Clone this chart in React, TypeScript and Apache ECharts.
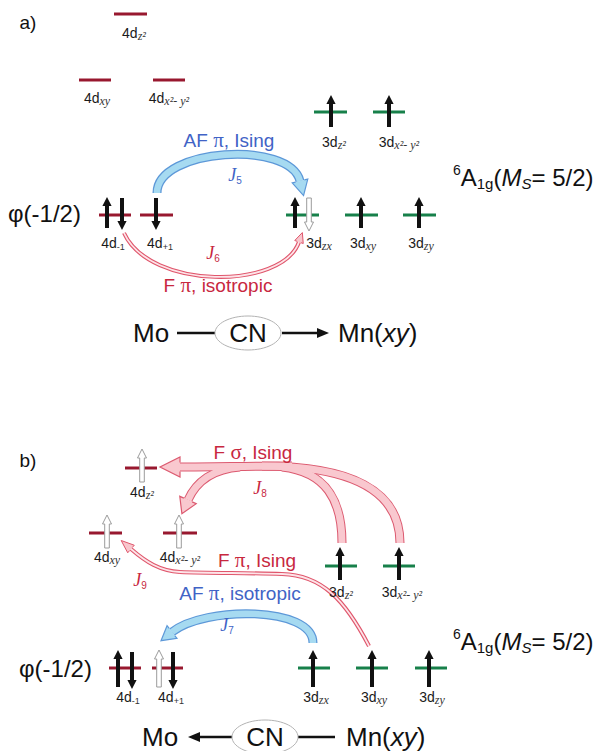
import React, { useEffect, useRef } from "react";
import * as echarts from "echarts";

const SANS = "'Liberation Sans', Arial, Helvetica, sans-serif";
const SERIF = "'Liberation Serif', 'Times New Roman', serif";
const MAROON = "#98182f";
const GREEN = "#17804a";
const BLUE_TXT = "#4163c6";
const RED_TXT = "#c8283f";

// Orbital energy levels: [xStart, xEnd, y, metal] (0 = Mo 4d, 1 = Mn 3d)
const levels: number[][] = [
  [114, 147, 14, 0], [79, 111, 80, 0], [153, 185, 80, 0],
  [314, 347, 112, 1], [373, 405, 112, 1],
  [99, 131, 215, 0], [140, 173, 215, 0],
  [286, 319, 215, 1], [345, 378, 215, 1], [403, 436, 215, 1],
  [125, 157, 468, 0], [89, 122, 533, 0], [163, 197, 533, 0],
  [325, 357, 566, 1], [383, 415, 566, 1],
  [109, 141, 668, 0], [152, 183, 668, 0],
  [298, 330, 668, 1], [356, 388, 668, 1], [415, 447, 668, 1],
];

// Spins: [x, yTop, yBottom, direction (1 up, -1 down), hollow (0/1)]
const spins: number[][] = [
  [331, 95, 127, 1, 0], [389, 95, 127, 1, 0],
  [107, 197, 228, 1, 0], [122, 198, 230, -1, 0], [156, 198, 230, -1, 0],
  [295, 197, 228, 1, 0], [309, 198, 231, -1, 1],
  [361, 197, 228, 1, 0], [419, 197, 228, 1, 0],
  [142, 449, 482, 1, 1], [107, 515, 548, 1, 1], [179, 515, 548, 1, 1],
  [340, 547, 580, 1, 0], [399, 547, 580, 1, 0],
  [118, 650, 687, 1, 0], [132, 652, 689, -1, 0],
  [159, 650, 687, 1, 1], [173, 652, 689, -1, 0],
  [313, 650, 687, 1, 0], [372, 650, 687, 1, 0], [429, 650, 687, 1, 0],
];

// Orbital names and where they sit
const orbitalNames: string[] = [
  "{b|4d}{i|z²}", "{b|4d}{i|xy}", "{b|4d}{i|x²- y²}",
  "{b|3d}{i|z²}", "{b|3d}{i|x²- y²}",
  "{b|4d}{n|-1}", "{b|4d}{n|+1}",
  "{b|3d}{i|zx}", "{b|3d}{i|xy}", "{b|3d}{i|zy}",
  "{b|4d}{i|z²}", "{b|4d}{i|xy}", "{b|4d}{i|x²- y²}",
  "{b|3d}{i|z²}", "{b|3d}{i|x²- y²}",
  "{b|4d}{n|-1}", "{b|4d}{n|+1}",
  "{b|3d}{i|zx}", "{b|3d}{i|xy}", "{b|3d}{i|zy}",
];
const orbitalNamePos: number[][] = [
  [134, 33], [97, 98], [169, 98],
  [334, 142], [399, 142],
  [113, 243], [160, 243],
  [319, 243], [363, 243], [421, 243],
  [142, 492], [107, 557], [180, 557],
  [341, 592], [402, 592],
  [128, 697], [171, 697],
  [316, 697], [374, 697], [432, 697],
];

// Free annotations: [rich text, x, y, align]
const annotations: (string | number)[][] = [
  ["{h|a)}", 28, 22, "center"],
  ["{h|b)}", 28, 460, "center"],
  ["{phi|φ(-1/2)}", 8, 213, "left"],
  ["{phi|φ(-1/2)}", 19, 668, "left"],
  ["{sup|6}{bigA|A}{sub|1g}{bigA|(}{bigAI|M}{subI|S}{bigA|= 5/2)}", 453, 177, "left"],
  ["{sup|6}{bigA|A}{sub|1g}{bigA|(}{bigAI|M}{subI|S}{bigA|= 5/2)}", 453, 641, "left"],
  ["{bt|AF }{bp|π}{bt|, Ising}", 229, 140, "center"],
  ["{bj|J}{bjs|5}", 235, 175, "center"],
  ["{rj|J}{rjs|6}", 213, 253, "center"],
  ["{rt|F }{rp|π}{rt|, isotropic}", 218, 285, "center"],
  ["{big|Mo}", 133, 333, "left"],
  ["{big|CN}", 248, 333, "center"],
  ["{big|Mn(}{bigI|xy}{big|)}", 338, 333, "left"],
  ["{rt|F }{rp|σ}{rt|, Ising}", 253, 452, "center"],
  ["{rj|J}{rjs|8}", 260, 488, "center"],
  ["{rt|F }{rp|π}{rt|, Ising}", 257, 560, "center"],
  ["{rj|J}{rjs|9}", 140, 580, "center"],
  ["{bt|AF }{bp|π}{bt|, isotropic}", 240, 593, "center"],
  ["{bj|J}{bjs|7}", 227, 625, "center"],
  ["{big|Mo}", 142, 737, "left"],
  ["{big|CN}", 265, 737, "center"],
  ["{big|Mn(}{bigI|xy}{big|)}", 346, 737, "left"],
];

// Exchange pathways: cubic segments [x0,y0, x1,y1, x2,y2, x3,y3]
const pathJ5: number[][] = [[157, 193, 157, 148, 290, 140, 300, 181]];
const pathJ6: number[][] = [[124, 233, 150, 290, 282, 290, 299, 242]];
const pathJ7: number[][] = [[313, 643, 313, 606, 205, 606, 172, 632]];
const pathJ8: number[][] = [
  [400, 543, 400, 490, 350, 466, 262, 466],
  [342, 543, 342, 500, 326, 472, 282, 467],
  [292, 466, 250, 466, 215, 467, 180, 467],
  [240, 467, 213, 469, 196, 482, 188, 500],
];
const pathJ9: number[][] = [
  [369, 646, 345, 600, 322, 575, 282, 574],
  [282, 574, 250, 573, 210, 573, 180, 572],
  [180, 572, 160, 571, 146, 562, 131, 549],
];
// heads: [segmentIndex, length, halfWidth]
const headsJ5 = [[0, 15, 8]];
const headsJ6 = [[0, 10, 4.5]];
const headsJ7 = [[0, 14, 8]];
const headsJ8 = [[2, 20, 10], [3, 15, 9]];
const headsJ9 = [[2, 13, 5]];

const curves = [
  { segs: pathJ5, heads: headsJ5, kind: "blue" },
  { segs: pathJ6, heads: headsJ6, kind: "thin" },
  { segs: pathJ7, heads: headsJ7, kind: "blue" },
  { segs: pathJ8, heads: headsJ8, kind: "pink" },
  { segs: pathJ9, heads: headsJ9, kind: "thin" },
];

// Bridge connectors: [x1, y, x2, arrowhead at x2 (0/1)]
const connectors: number[][] = [
  [177, 333, 215, 0], [282, 333, 318, 1],
  [233, 737, 199, 1], [298, 737, 335, 0],
];
// CN ellipses: [cx, cy, rx, ry]
const ellipses: number[][] = [[248, 333, 33, 17], [265, 737, 33, 17]];

const curveStyles: Record<string, any> = {
  blue: { outer: "#5d98d8", inner: "#a6daf1", ow: 9, iw: 6.5, headFill: "#a6daf1", headStroke: "#5d98d8" },
  pink: { outer: "#dc5a70", inner: "#f9c8cf", ow: 9, iw: 7, headFill: "#f9c8cf", headStroke: "#dc5a70" },
  thin: { outer: "#e0566c", inner: "#fde4e8", ow: 4, iw: 1.8, headFill: "#f8c6cd", headStroke: "#e0566c" },
};

const rich: Record<string, any> = {
  b: { fontFamily: SANS, fontSize: 14, lineHeight: 17, fill: "#1a1a1a", verticalAlign: "middle" },
  i: { fontFamily: SERIF, fontStyle: "italic", fontSize: 12, lineHeight: 11, fill: "#333", verticalAlign: "bottom" },
  n: { fontFamily: SANS, fontSize: 9, lineHeight: 10, fill: "#333", verticalAlign: "bottom" },
  h: { fontFamily: SANS, fontSize: 19, lineHeight: 22, fill: "#111" },
  phi: { fontFamily: SANS, fontSize: 24, lineHeight: 28, fill: "#111" },
  big: { fontFamily: SANS, fontSize: 26, lineHeight: 30, fill: "#111", verticalAlign: "middle" },
  bigI: { fontFamily: SANS, fontStyle: "italic", fontSize: 26, lineHeight: 30, fill: "#111", verticalAlign: "middle" },
  bigA: { fontFamily: SANS, fontSize: 24, lineHeight: 28, fill: "#111", verticalAlign: "middle" },
  bigAI: { fontFamily: SANS, fontStyle: "italic", fontSize: 24, lineHeight: 28, fill: "#111", verticalAlign: "middle" },
  sup: { fontFamily: SANS, fontSize: 14, lineHeight: 14, fill: "#111", verticalAlign: "top" },
  sub: { fontFamily: SANS, fontSize: 15, lineHeight: 15, fill: "#111", verticalAlign: "bottom" },
  subI: { fontFamily: SANS, fontStyle: "italic", fontSize: 15, lineHeight: 15, fill: "#111", verticalAlign: "bottom" },
  bt: { fontFamily: SANS, fontSize: 19, lineHeight: 22, fill: BLUE_TXT, verticalAlign: "middle" },
  bp: { fontFamily: SERIF, fontSize: 21, lineHeight: 22, fill: BLUE_TXT, verticalAlign: "middle" },
  rt: { fontFamily: SANS, fontSize: 19, lineHeight: 22, fill: RED_TXT, verticalAlign: "middle" },
  rp: { fontFamily: SERIF, fontSize: 21, lineHeight: 22, fill: RED_TXT, verticalAlign: "middle" },
  bj: { fontFamily: SERIF, fontStyle: "italic", fontSize: 18, lineHeight: 20, fill: BLUE_TXT, verticalAlign: "middle" },
  bjs: { fontFamily: SANS, fontSize: 10, lineHeight: 10, fill: BLUE_TXT, verticalAlign: "bottom" },
  rj: { fontFamily: SERIF, fontStyle: "italic", fontSize: 18, lineHeight: 20, fill: RED_TXT, verticalAlign: "middle" },
  rjs: { fontFamily: SANS, fontSize: 10, lineHeight: 10, fill: RED_TXT, verticalAlign: "bottom" },
};

function bez(seg: number[], api: any, style: any) {
  const p = [0, 1, 2, 3].map((k) => api.coord([seg[2 * k], seg[2 * k + 1]]));
  return {
    type: "bezierCurve",
    shape: { x1: p[0][0], y1: p[0][1], cpx1: p[1][0], cpy1: p[1][1], cpx2: p[2][0], cpy2: p[2][1], x2: p[3][0], y2: p[3][1] },
    style: { fill: "none", ...style },
  };
}

function headGeom(seg: number[], len: number, hw: number, api: any) {
  const e = api.coord([seg[6], seg[7]]);
  const c = api.coord([seg[4], seg[5]]);
  let dx = e[0] - c[0], dy = e[1] - c[1];
  const d = Math.hypot(dx, dy) || 1;
  dx /= d; dy /= d;
  const tip = [e[0] + dx * len, e[1] + dy * len];
  const b1 = [e[0] - dy * hw, e[1] + dx * hw];
  const b2 = [e[0] + dy * hw, e[1] - dx * hw];
  return { e, dx, dy, tip, b1, b2 };
}

export default function App() {
  const ref = useRef<HTMLDivElement>(null);
  useEffect(() => {
    if (!ref.current) return;
    const chart = echarts.init(ref.current, undefined, { renderer: "svg" });
    const option: any = {
      animation: false,
      backgroundColor: "#ffffff",
      grid: { left: 0, right: 0, top: 0, bottom: 0 },
      xAxis: { type: "value", min: 0, max: 603, show: false },
      yAxis: { type: "value", min: 0, max: 751, inverse: true, show: false },
      tooltip: { show: false },
      series: [
        {
          type: "custom", name: "pathways", z: 1, silent: true, clip: false,
          data: curves.map((c) => [c.segs[0][0], c.segs[0][1]]),
          renderItem: (params: any, api: any) => {
            const cv = curves[params.dataIndex];
            const st = curveStyles[cv.kind];
            const children: any[] = [];
            cv.segs.forEach((s) => children.push(bez(s, api, { stroke: st.outer, lineWidth: st.ow })));
            const hs = cv.heads.map((h) => headGeom(cv.segs[h[0]], h[1], h[2], api));
            hs.forEach((g) => children.push({ type: "polygon", shape: { points: [g.tip, g.b1, g.b2] }, style: { fill: st.headFill } }));
            cv.segs.forEach((s) => children.push(bez(s, api, { stroke: st.inner, lineWidth: st.iw })));
            hs.forEach((g) => {
              const w = st.ow / 2;
              const p1 = [g.e[0] - g.dy * w, g.e[1] + g.dx * w];
              const p2 = [g.e[0] + g.dy * w, g.e[1] - g.dx * w];
              children.push({ type: "polyline", shape: { points: [p1, g.b1, g.tip, g.b2, p2] }, style: { fill: "none", stroke: st.headStroke, lineWidth: cv.kind === "thin" ? 1 : 1.2 } });
            });
            return { type: "group", children };
          },
        },
        {
          type: "custom", name: "levels", z: 2, silent: true, clip: false,
          data: levels,
          encode: { x: 0, y: 2 },
          renderItem: (params: any, api: any) => {
            const l = levels[params.dataIndex];
            const p1 = api.coord([l[0], l[2]]);
            const p2 = api.coord([l[1], l[2]]);
            return { type: "line", shape: { x1: p1[0], y1: p1[1], x2: p2[0], y2: p2[1] }, style: { stroke: l[3] ? GREEN : MAROON, lineWidth: 3 } };
          },
        },
        {
          type: "custom", name: "spins", z: 3, silent: true, clip: false,
          data: spins,
          encode: { x: 0, y: 1 },
          renderItem: (params: any, api: any) => {
            const s = spins[params.dataIndex];
            const top = api.coord([s[0], s[1]]);
            const bot = api.coord([s[0], s[2]]);
            const x = top[0];
            const hollow = s[4] === 1;
            const sw = hollow ? 2.3 : 2;
            const hw = hollow ? 4.5 : 4.6;
            const hl = 9;
            let pts: number[][];
            const t = top[1], b = bot[1];
            if (s[3] > 0) {
              pts = [[x, t], [x + hw, t + hl], [x + sw, t + hl], [x + sw, b], [x - sw, b], [x - sw, t + hl], [x - hw, t + hl]];
            } else {
              pts = [[x, b], [x + hw, b - hl], [x + sw, b - hl], [x + sw, t], [x - sw, t], [x - sw, b - hl], [x - hw, b - hl]];
            }
            return {
              type: "polygon", shape: { points: pts },
              style: hollow ? { fill: "#ffffff", stroke: "#9c9c9c", lineWidth: 1 } : { fill: "#111111" },
            };
          },
        },
        {
          type: "custom", name: "connectors", z: 2, silent: true, clip: false,
          data: connectors,
          encode: { x: 0, y: 1 },
          renderItem: (params: any, api: any) => {
            const c = connectors[params.dataIndex];
            const p1 = api.coord([c[0], c[1]]);
            const p2 = api.coord([c[2], c[1]]);
            const children: any[] = [{ type: "line", shape: { x1: p1[0], y1: p1[1], x2: p2[0], y2: p2[1] }, style: { stroke: "#111", lineWidth: 2.5 } }];
            if (c[3]) {
              const dir = p2[0] > p1[0] ? 1 : -1;
              children.push({ type: "polygon", shape: { points: [[p2[0] + dir * 11, p2[1]], [p2[0] - dir * 1, p2[1] - 5], [p2[0] - dir * 1, p2[1] + 5]] }, style: { fill: "#111" } });
            }
            return { type: "group", children };
          },
        },
        {
          type: "custom", name: "ligand", z: 2, silent: true, clip: false,
          data: ellipses,
          encode: { x: 0, y: 1 },
          renderItem: (params: any, api: any) => {
            const e = ellipses[params.dataIndex];
            const c = api.coord([e[0], e[1]]);
            const sz = api.size([e[2], e[3]]);
            return { type: "ellipse", shape: { cx: c[0], cy: c[1], rx: sz[0], ry: sz[1] }, style: { fill: "#ffffff", stroke: "#b3b3b3", lineWidth: 1 } };
          },
        },
        {
          type: "custom", name: "orbitalNames", z: 4, silent: true, clip: false,
          data: orbitalNamePos,
          renderItem: (params: any, api: any) => {
            const p = orbitalNamePos[params.dataIndex];
            const c = api.coord([p[0], p[1]]);
            return { type: "text", style: { text: orbitalNames[params.dataIndex], x: c[0], y: c[1], align: "center", verticalAlign: "middle", rich } };
          },
        },
        {
          type: "custom", name: "annotations", z: 4, silent: true, clip: false,
          data: annotations.map((a) => [a[1], a[2]]),
          renderItem: (params: any, api: any) => {
            const a = annotations[params.dataIndex];
            const c = api.coord([a[1] as number, a[2] as number]);
            return { type: "text", style: { text: a[0] as string, x: c[0], y: c[1], align: a[3] as string, verticalAlign: "middle", rich } };
          },
        },
      ],
    };
    chart.setOption(option);
    return () => chart.dispose();
  }, []);
  return (
    <div
      ref={ref}
      style={{ position: "absolute", left: 0, top: 0, width: 603, height: 751, background: "#ffffff" }}
    />
  );
}
